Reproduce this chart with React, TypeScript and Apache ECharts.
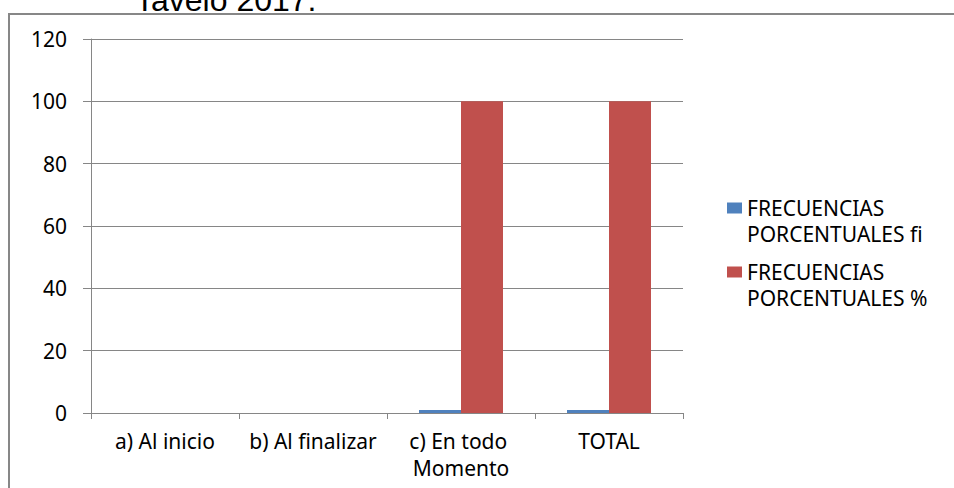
import React, { useEffect, useRef } from "react";
import * as echarts from "echarts";

const categories = ["a) Al inicio", "b) Al finalizar", "c) En todo Momento", "TOTAL"];
const seriesNames = ["FRECUENCIAS PORCENTUALES fi", "FRECUENCIAS PORCENTUALES %"];
const fiValues = [0, 0, 1, 1];
const pctValues = [0, 0, 100, 100];
const yTicks = { min: 0, max: 120, interval: 20 };
const titleText = "Tavelo 2017.";

const FONT = "'Noto Sans', sans-serif";
const FS = 21;

export default function App() {
  const ref = useRef<HTMLDivElement>(null);
  useEffect(() => {
    document.body.style.margin = "0";
    const chart = echarts.init(ref.current!, null, { renderer: "svg" });
    const legendText = {
      fontFamily: FONT,
      fontSize: FS,
      color: "#000",
      lineHeight: 26,
    };
    const legendBase = {
      orient: "vertical",
      left: 727,
      padding: 0,
      itemWidth: 15,
      itemHeight: 11,
      itemGap: 9,
      icon: "rect",
      formatter: (n: string) => "\n" + n.replace(" ", "\n"),
      textStyle: legendText,
    };
    chart.setOption({
      animation: false,
      backgroundColor: "#fff",
      textStyle: { fontFamily: FONT },
      grid: { left: 91, right: 271, top: 39, bottom: 75, containLabel: false },
      legend: [
        { ...legendBase, data: [seriesNames[0]], top: 169 },
        { ...legendBase, data: [seriesNames[1]], top: 233 },
      ],
      xAxis: {
        type: "category",
        data: categories,
        axisLine: { lineStyle: { color: "#868686", width: 1 } },
        axisTick: { show: true, length: 6, alignWithLabel: false, lineStyle: { color: "#868686" } },
        axisLabel: {
          interval: 0,
          margin: 14,
          color: "#000",
          fontFamily: FONT,
          fontSize: FS,
          lineHeight: 27,
          width: 146,
          overflow: "break",
        },
      },
      yAxis: {
        type: "value",
        min: yTicks.min,
        max: yTicks.max,
        interval: yTicks.interval,
        axisLine: { show: true, lineStyle: { color: "#868686", width: 1 } },
        axisTick: { show: true, length: 8, lineStyle: { color: "#868686" } },
        splitLine: { lineStyle: { color: "#868686", width: 1 } },
        axisLabel: { color: "#000", fontFamily: FONT, fontSize: FS, margin: 24 },
      },
      series: [
        {
          name: seriesNames[0],
          type: "bar",
          data: fiValues,
          barWidth: 42,
          barGap: "0%",
          itemStyle: { color: "#4F81BD" },
        },
        {
          name: seriesNames[1],
          type: "bar",
          data: pctValues,
          barWidth: 42,
          barGap: "0%",
          itemStyle: { color: "#C0504D" },
        },
      ],
      graphic: [
        {
          type: "rect",
          shape: { x: 9, y: 14, width: 980, height: 500 },
          style: { fill: "none", stroke: "#878787", lineWidth: 2 },
          silent: true,
        },
        {
          type: "text",
          x: 135,
          y: 16,
          style: {
            text: titleText,
            fontFamily: "'Liberation Sans', Arial, sans-serif",
            fontSize: 32,
            fill: "#000",
            verticalAlign: "bottom",
          },
        },
      ],
    });
    return () => chart.dispose();
  }, []);
  return <div ref={ref} style={{ width: 954, height: 488 }} />;
}
